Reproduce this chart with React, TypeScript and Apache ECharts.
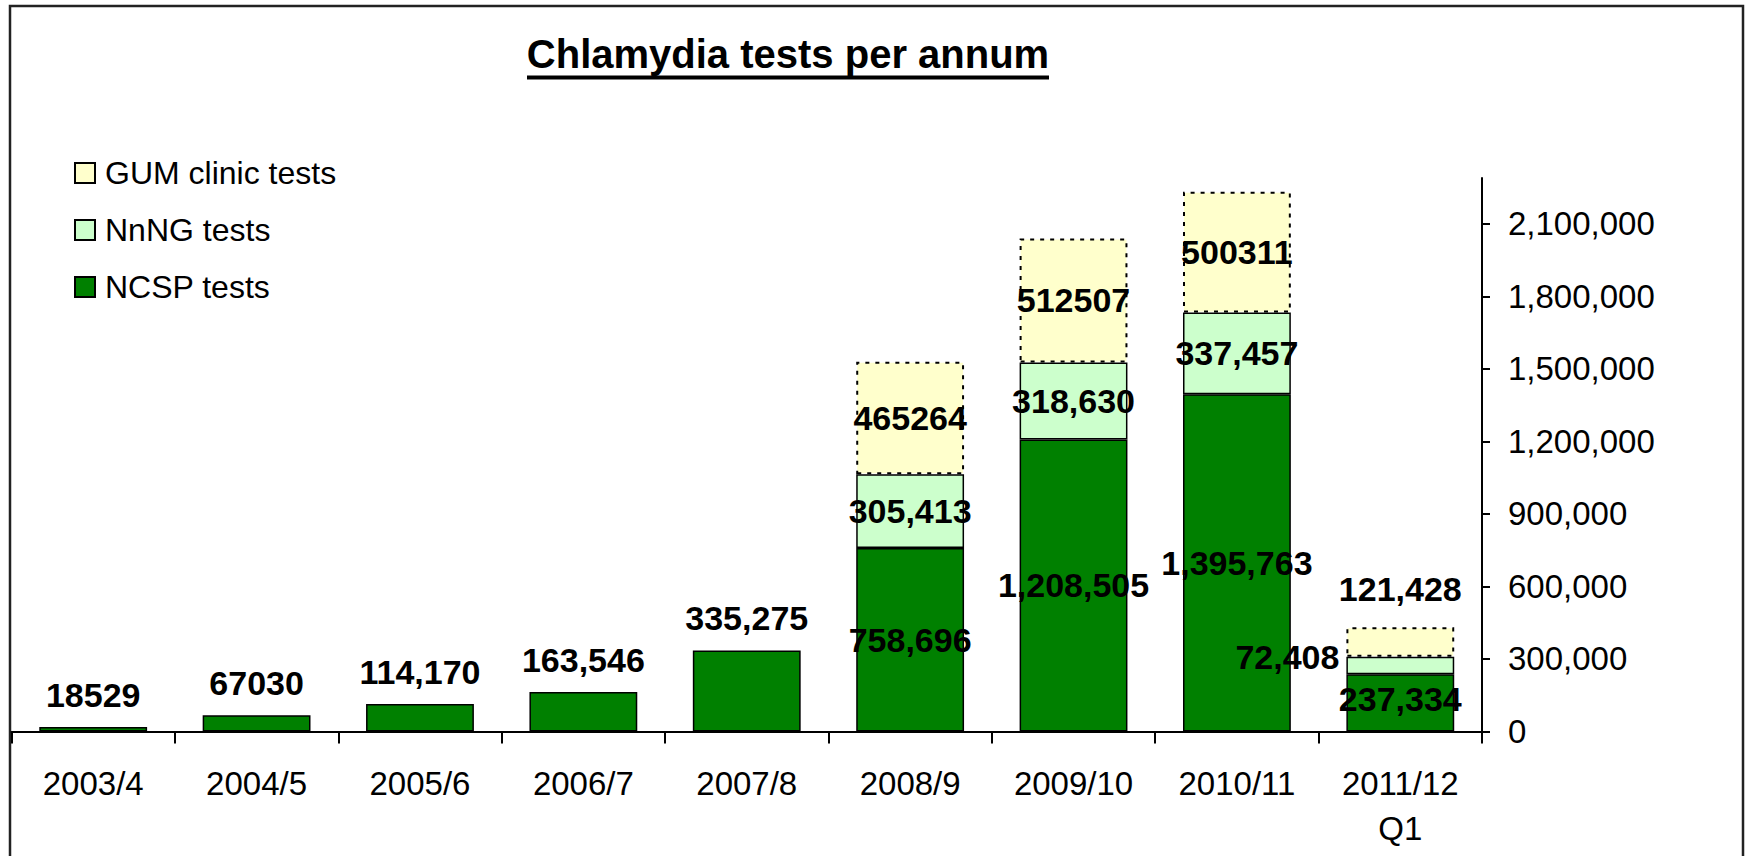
import React, { useEffect, useRef } from "react";
import * as echarts from "echarts";

const categories = ["2003/4", "2004/5", "2005/6", "2006/7", "2007/8", "2008/9", "2009/10", "2010/11", "2011/12\nQ1"];
const ncspValues = [18529, 67030, 114170, 163546, 335275, 758696, 1208505, 1395763, 237334];
const nnngValues = [null, null, null, null, null, 305413, 318630, 337457, 72408];
const gumValues = [null, null, null, null, null, 465264, 512507, 500311, 121428];
const ncspLabels = ["18529", "67030", "114,170", "163,546", "335,275", "758,696", "1,208,505", "1,395,763", "237,334"];
const nnngLabels = ["", "", "", "", "", "305,413", "318,630", "337,457", "72,408"];
const gumLabels = ["", "", "", "", "", "465264", "512507", "500311", "121,428"];
const yTickValues = [0, 300000, 600000, 900000, 1200000, 1500000, 1800000, 2100000];

const FONT = '"Liberation Sans", Arial, sans-serif';

export default function App() {
  const ref = useRef<HTMLDivElement>(null);

  useEffect(() => {
    if (!ref.current) return;
    const chart = echarts.init(ref.current, null, { renderer: "svg" });

    const dataLabel = {
      show: true,
      color: "#000",
      fontSize: 34,
      fontWeight: "bold" as const,
      fontFamily: FONT,
    };

    const ncspData = ncspValues.map((v, i) => {
      const item: any = { value: v, label: { ...dataLabel, formatter: ncspLabels[i] } };
      if (i < 5) {
        item.label.position = "top";
        item.label.distance = 15;
      } else {
        item.label.position = "inside";
        if (i === 8) item.label.offset = [0, -4];
      }
      return item;
    });

    const nnngData = nnngValues.map((v, i) => {
      if (v === null) return { value: null };
      const item: any = { value: v, label: { ...dataLabel, formatter: nnngLabels[i], position: "inside" } };
      if (i === 8) {
        item.label.position = "left";
        item.label.distance = 7;
        item.label.offset = [0, -8];
      }
      return item;
    });

    const gumData = gumValues.map((v, i) => {
      if (v === null) return { value: null };
      const item: any = { value: v, label: { ...dataLabel, formatter: gumLabels[i], position: "inside" } };
      if (i === 8) {
        item.label.position = "top";
        item.label.distance = 21;
      }
      return item;
    });

    const option: any = {
      animation: false,
      backgroundColor: "#fff",
      textStyle: { fontFamily: FONT },
      grid: { left: 11.5, right: 265, top: 178, bottom: 124.5, containLabel: false },
      legend: {
        orient: "vertical",
        left: 69,
        top: 152,
        itemWidth: 20,
        itemHeight: 20,
        itemGap: 25,
        icon: "rect",
        data: ["GUM clinic tests", "NnNG tests", "NCSP tests"],
        textStyle: { color: "#000", fontSize: 32, fontFamily: FONT, padding: [0, 0, 0, 5] },
      },
      xAxis: {
        type: "category",
        data: categories,
        axisLine: { lineStyle: { color: "#000", width: 2 } },
        axisTick: { show: true, length: 12, lineStyle: { color: "#000", width: 2 } },
        axisLabel: {
          interval: 0,
          color: "#000",
          fontSize: 33,
          fontFamily: FONT,
          lineHeight: 45,
          margin: 29,
        },
      },
      yAxis: {
        type: "value",
        position: "right",
        min: 0,
        max: 2290000,
        axisLine: { show: true, lineStyle: { color: "#000", width: 2 } },
        axisTick: { show: true, length: 8, customValues: yTickValues, lineStyle: { color: "#000", width: 2 } },
        axisLabel: {
          customValues: yTickValues,
          color: "#000",
          fontSize: 33,
          fontFamily: FONT,
          margin: 26,
          formatter: (v: number) => v.toLocaleString("en-US"),
        },
        splitLine: { show: false },
      },
      series: [
        {
          name: "NCSP tests",
          type: "bar",
          stack: "total",
          barWidth: "66%",
          itemStyle: { color: "#008000", borderColor: "#000", borderWidth: 1.5 },
          data: ncspData,
        },
        {
          name: "NnNG tests",
          type: "bar",
          stack: "total",
          barWidth: "66%",
          itemStyle: { color: "#CCFFCC", borderColor: "#000", borderWidth: 1.5 },
          data: nnngData,
        },
        {
          name: "GUM clinic tests",
          type: "bar",
          stack: "total",
          barWidth: "66%",
          itemStyle: { color: "#FFFFCC", borderColor: "#000", borderWidth: 2, borderType: [4, 6] },
          data: gumData,
        },
      ],
      graphic: [
        {
          type: "rect",
          silent: true,
          z: -1,
          shape: { x: 10, y: 6, width: 1733, height: 900 },
          style: { fill: "transparent", stroke: "#222", lineWidth: 2.5 },
        },
        {
          type: "text",
          x: 788,
          y: 54,
          style: {
            text: "Chlamydia tests per annum",
            fill: "#000",
            fontSize: 40,
            fontWeight: "bold",
            fontFamily: FONT,
            align: "center",
            verticalAlign: "middle",
          },
        },
        {
          type: "line",
          shape: { x1: 527, y1: 77.5, x2: 1049, y2: 77.5 },
          style: { stroke: "#000", lineWidth: 4 },
        },
      ],
    };

    chart.setOption(option);
    return () => chart.dispose();
  }, []);

  return (
    <div
      ref={ref}
      style={{ position: "fixed", left: 0, top: 0, width: 1747, height: 856, background: "#fff" }}
    />
  );
}
